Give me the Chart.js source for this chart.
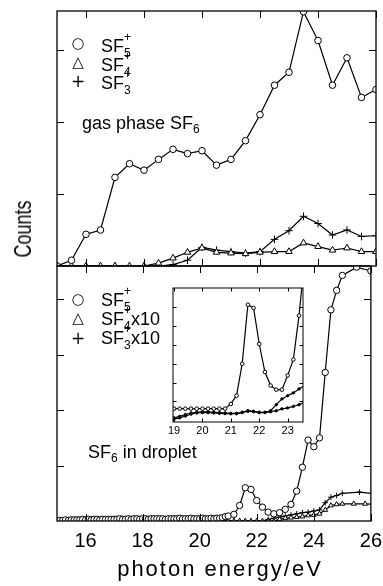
<!DOCTYPE html>
<html>
<head>
<meta charset="utf-8">
<script src="https://cdn.jsdelivr.net/npm/chart.js@4.4.1/dist/chart.umd.min.js"></script>
<style>
  body { margin: 0; background: #fff; }
  #wrap { position: relative; width: 383px; height: 586px; overflow: hidden; font-family: "Liberation Sans", Arial, sans-serif; color: #000; }
  canvas { position: absolute; left: 0; top: 0; }
  .t { position: absolute; white-space: nowrap; font-size: 18px; line-height: 18px; }
  .sym { position: absolute; width: 16px; height: 18px; text-align: center; font-family: "DejaVu Sans", sans-serif; font-size: 15px; line-height: 18px; }
  .ss { display: inline-block; vertical-align: -5px; font-size: 12px; line-height: 16px; }
  .ss i { display: block; font-style: normal; }
  .sub { font-size: 12px; vertical-align: -4px; line-height: 0; }
  #counts { position: absolute; left: 23px; top: 229px; font-size: 18px; line-height: 18px; white-space: nowrap; transform: translate(-50%, -50%) rotate(-90deg) scaleY(1.3); }
  #xtitle { position: absolute; left: 220px; top: 558px; font-size: 22px; line-height: 22px; letter-spacing: 2px; white-space: nowrap; transform: translateX(-50%); }
</style>
</head>
<body>
<div id="wrap">
  <canvas id="gas" width="383" height="586"></canvas>
  <canvas id="drop" width="390" height="586"></canvas>
  <canvas id="inset" width="383" height="586"></canvas>

  <div class="sym" style="left:70px; top:34px;">○</div>
  <div class="t" style="left:101px; top:29px;">SF<span class="ss"><i>+</i><i>5</i></span></div>
  <div class="sym" style="left:70px; top:53px;">△</div>
  <div class="t" style="left:101px; top:48px;">SF<span class="ss"><i>+</i><i>4</i></span></div>
  <div class="sym" style="left:70px; top:72px; font-size:17px;">+</div>
  <div class="t" style="left:101px; top:66px;">SF<span class="ss"><i>+</i><i>3</i></span></div>
  <div class="t" style="left:82px; top:114px;">gas phase SF<span class="sub">6</span></div>

  <div class="sym" style="left:70px; top:290px;">○</div>
  <div class="t" style="left:101px; top:283px;">SF<span class="ss"><i>+</i><i>5</i></span></div>
  <div class="sym" style="left:70px; top:309px;">△</div>
  <div class="t" style="left:101px; top:302px;">SF<span class="ss"><i>+</i><i>4</i></span>x10</div>
  <div class="sym" style="left:70px; top:329px; font-size:17px;">+</div>
  <div class="t" style="left:101px; top:321px;">SF<span class="ss"><i>+</i><i>3</i></span>x10</div>
  <div class="t" style="left:88px; top:443px;">SF<span class="sub">6</span> in droplet</div>

  <div id="counts">Counts</div>
  <div id="xtitle">photon energy/eV</div>
</div>
<script>
// gas phase SF6 (upper panel)
const gasEnergy = [15.0, 15.5, 16.0, 16.5, 17.0, 17.5, 18.0, 18.5, 19.0, 19.5, 20.0, 20.5, 21.0, 21.5, 22.0, 22.5, 23.0, 23.5, 24.0, 24.5, 25.0, 25.5, 26.0];
const gasSF5 = [0.0, 0.08, 0.44, 0.5, 1.23, 1.42, 1.33, 1.48, 1.62, 1.56, 1.6, 1.4, 1.48, 1.74, 2.1, 2.51, 2.69, 3.53, 3.13, 2.51, 2.89, 2.34, 2.45];
const gasSF4 = [0, 0, 0, 0, 0, 0, 0, 0.04, 0.11, 0.19, 0.25, 0.19, 0.18, 0.17, 0.19, 0.2, 0.2, 0.32, 0.27, 0.22, 0.25, 0.2, 0.2];
const gasSF3 = [0, 0, 0, 0, 0, 0, 0, 0, 0.02, 0.08, 0.26, 0.22, 0.2, 0.18, 0.2, 0.37, 0.49, 0.69, 0.59, 0.43, 0.5, 0.41, 0.42];

// SF6 in droplet (lower panel)
const dropEnergySF5 = [
  15.0, 15.1, 15.2, 15.3, 15.4, 15.5, 15.6, 15.7, 15.8, 15.9,
  16.0, 16.1, 16.2, 16.3, 16.4, 16.5, 16.6, 16.7, 16.8, 16.9,
  17.0, 17.1, 17.2, 17.3, 17.4, 17.5, 17.6, 17.7, 17.8, 17.9,
  18.0, 18.1, 18.2, 18.3, 18.4, 18.5, 18.6, 18.7, 18.8, 18.9,
  19.0, 19.1, 19.2, 19.3, 19.4, 19.5, 19.6, 19.7, 19.8, 19.9,
  20.0, 20.1, 20.2, 20.3, 20.4, 20.5, 20.6, 20.7, 20.8, 20.9,
  21.0, 21.2, 21.4, 21.6, 21.8, 22.0, 22.2, 22.4, 22.6, 22.8,
  23.0, 23.2, 23.4, 23.6, 23.8, 24.0, 24.2, 24.4, 24.6, 24.8,
  25.0, 25.5, 26.0];
const dropSF5 = [
  0.01, 0.01, 0.01, 0.02, 0.01, 0.02, 0.02, 0.02, 0.02, 0.03,
  0.02, 0.03, 0.02, 0.03, 0.03, 0.02, 0.03, 0.03, 0.03, 0.03,
  0.03, 0.03, 0.04, 0.03, 0.03, 0.04, 0.03, 0.04, 0.04, 0.03,
  0.04, 0.04, 0.03, 0.04, 0.04, 0.04, 0.04, 0.04, 0.03, 0.04,
  0.04, 0.04, 0.04, 0.05, 0.04, 0.04, 0.04, 0.05, 0.04, 0.04,
  0.04, 0.05, 0.04, 0.04, 0.05, 0.04, 0.05, 0.05, 0.06, 0.08,
  0.09, 0.12, 0.28, 0.6, 0.57, 0.37, 0.25, 0.16, 0.13, 0.15,
  0.21, 0.3, 0.54, 0.97, 1.46, 1.34, 1.5, 2.68, 3.81, 4.16,
  4.43, 4.58, 4.51];
const dropEnergySF4 = [20.0, 20.2, 20.4, 20.6, 20.8, 21.0, 21.2, 21.4, 21.6, 21.8, 22.0, 22.2, 22.4, 22.6, 22.8, 23.0, 23.2, 23.4, 23.6, 23.8, 24.0, 24.2, 24.4, 24.6, 24.8, 25.0, 25.4, 25.8, 26.2];
const dropSF4x10 = [0, 0, 0, 0, 0, 0, 0, 0, 0, 0, 0, 0, 0, 0, 0.03, 0.05, 0.06, 0.07, 0.08, 0.1, 0.11, 0.13, 0.2, 0.28, 0.3, 0.31, 0.31, 0.31, 0.3];
const dropEnergySF3 = [20.0, 20.2, 20.4, 20.6, 20.8, 21.0, 21.2, 21.4, 21.6, 21.8, 22.0, 22.2, 22.4, 22.6, 22.8, 23.0, 23.2, 23.4, 23.6, 23.8, 24.0, 24.2, 24.4, 24.6, 24.8, 25.0, 25.6, 26.2];
const dropSF3x10 = [0, 0, 0, 0, 0, 0, 0, 0, 0, 0, 0, 0, 0.03, 0.05, 0.07, 0.09, 0.11, 0.13, 0.15, 0.16, 0.18, 0.2, 0.33, 0.43, 0.46, 0.5, 0.52, 0.49];

// inset (zoom of the droplet spectrum)
const insetEnergy = [19.0, 19.2, 19.4, 19.6, 19.8, 20.0, 20.2, 20.4, 20.6, 20.8, 21.0, 21.2, 21.4, 21.6, 21.8, 22.0, 22.2, 22.4, 22.6, 22.8, 23.0, 23.2, 23.4, 23.6];
const insetSF5 = [0.61, 0.61, 0.61, 0.61, 0.61, 0.61, 0.61, 0.61, 0.61, 0.61, 0.86, 1.3, 3.0, 6.14, 5.97, 4.05, 2.56, 1.84, 1.62, 1.62, 2.38, 3.22, 5.56, 8.6];
const insetSF4 = [0.05, 0.12, 0.22, 0.32, 0.38, 0.4, 0.4, 0.38, 0.36, 0.35, 0.34, 0.34, 0.4, 0.47, 0.45, 0.4, 0.4, 0.45, 0.5, 0.6, 0.65, 0.73, 0.82, 0.95];
const insetSF3 = [0.12, 0.2, 0.3, 0.38, 0.42, 0.44, 0.44, 0.42, 0.4, 0.38, 0.36, 0.36, 0.42, 0.5, 0.47, 0.42, 0.42, 0.5, 0.82, 1.13, 1.3, 1.45, 1.66, 1.85];

// tick positions
const mainXTicks = [16, 18, 20, 22, 24, 26];
const gasYTicks = [1, 2, 3];
const dropYTicks = [1, 2, 3, 4];
const insetXTicks = [19, 20, 21, 22, 23];
const insetYTicks = [1, 2, 3, 4, 5, 6];

const FONT = '"Liberation Sans", Arial, sans-serif';

const pts = (xs, ys) => xs.map((x, i) => ({ x, y: ys[i] }));

function series(xs, ys, style, radius, fill) {
  return {
    data: pts(xs, ys),
    borderColor: '#000',
    borderWidth: 1.2,
    pointStyle: style,
    pointRadius: radius,
    pointBorderWidth: 1,
    pointBorderColor: '#000',
    pointBackgroundColor: fill || '#fff',
    tension: 0,
    clip: 0,
  };
}

// box around the plot area with inward ticks on all four sides
const framePlugin = {
  id: 'frame',
  beforeDraw(chart, args, opts) {
    if (!opts.fill) return;
    const { ctx, chartArea: a } = chart;
    ctx.save();
    ctx.fillStyle = '#fff';
    ctx.fillRect(a.left, a.top, a.right - a.left, a.bottom - a.top);
    ctx.restore();
  },
  afterDraw(chart, args, opts) {
    const { ctx, chartArea: a, scales: { x, y } } = chart;
    ctx.save();
    ctx.strokeStyle = '#000';
    ctx.lineWidth = opts.width;
    ctx.strokeRect(a.left, a.top, a.right - a.left, a.bottom - a.top);
    ctx.lineWidth = 1;
    ctx.beginPath();
    opts.xTicks.forEach(v => {
      const p = Math.round(x.getPixelForValue(v)) + 0.5;
      ctx.moveTo(p, a.bottom); ctx.lineTo(p, a.bottom - opts.len);
      ctx.moveTo(p, a.top); ctx.lineTo(p, a.top + opts.len);
    });
    opts.yTicks.forEach(v => {
      const p = Math.round(y.getPixelForValue(v)) + 0.5;
      ctx.moveTo(a.left, p); ctx.lineTo(a.left + opts.len, p);
      ctx.moveTo(a.right, p); ctx.lineTo(a.right - opts.len, p);
    });
    ctx.stroke();
    ctx.restore();
  },
};

function makeChart(id, datasets, padding, xScale, yScale, frame) {
  return new Chart(document.getElementById(id), {
    type: 'line',
    data: { datasets },
    options: {
      responsive: false,
      animation: false,
      devicePixelRatio: 1,
      events: [],
      layout: { padding },
      plugins: { legend: { display: false }, tooltip: { enabled: false }, frame },
      scales: { x: xScale, y: yScale },
    },
    plugins: [framePlugin],
  });
}

// shift the layout padding so the plot box lands on the wanted edges
function pin(chart, bottom, right) {
  const a = chart.chartArea;
  const pad = chart.options.layout.padding;
  pad.bottom += a.bottom - bottom;
  if (right != null) pad.right += a.right - right;
  chart.update();
}

const hiddenY = (min, max) => ({ type: 'linear', min, max, display: false });

// upper panel
makeChart('gas', [
  series(gasEnergy, gasSF5, 'circle', 3.3),
  series(gasEnergy, gasSF4, 'triangle', 3.8),
  series(gasEnergy, gasSF3, 'cross', 3.8),
], { left: 57, top: 11, right: 7, bottom: 320 },
  { type: 'linear', min: 15, max: 26, display: false },
  hiddenY(0, 3.54),
  { xTicks: mainXTicks, yTicks: gasYTicks, len: 7, width: 1.3 });

// lower panel, carries the energy axis labels
const drop = makeChart('drop', [
  series(dropEnergySF5, dropSF5, 'circle', 3.2),
  series(dropEnergySF4, dropSF4x10, 'triangle', 2.8),
  series(dropEnergySF3, dropSF3x10, 'cross', 2.8),
], { left: 57, top: 266, right: 14, bottom: 33 },
  {
    type: 'linear', min: 15, max: 26,
    afterBuildTicks: s => { s.ticks = mainXTicks.map(v => ({ value: v })); },
    ticks: { color: '#000', font: { family: FONT, size: 20 }, padding: 8, maxRotation: 0, autoSkip: false },
    grid: { display: false, drawTicks: false },
    border: { display: false },
  },
  hiddenY(0, 4.6),
  { xTicks: mainXTicks, yTicks: dropYTicks, len: 7, width: 1.3 });
pin(drop, 521, 376);

// inset
const inset = makeChart('inset', [
  series(insetEnergy, insetSF5, 'circle', 1.8),
  series(insetEnergy, insetSF4, 'circle', 1.2, '#000'),
  series(insetEnergy, insetSF3, 'circle', 1.2, '#000'),
], { left: 173, top: 288, right: 80, bottom: 149 },
  {
    type: 'linear', min: 18.965, max: 23.54,
    afterBuildTicks: s => { s.ticks = insetXTicks.map(v => ({ value: v })); },
    ticks: { color: '#000', font: { family: FONT, size: 11 }, padding: 2, maxRotation: 0, autoSkip: false },
    grid: { display: false, drawTicks: false },
    border: { display: false },
  },
  hiddenY(-0.1, 7.03),
  { xTicks: insetXTicks, yTicks: insetYTicks, len: 3.5, width: 1, fill: true });
pin(inset, 422);
</script>
</body>
</html>
